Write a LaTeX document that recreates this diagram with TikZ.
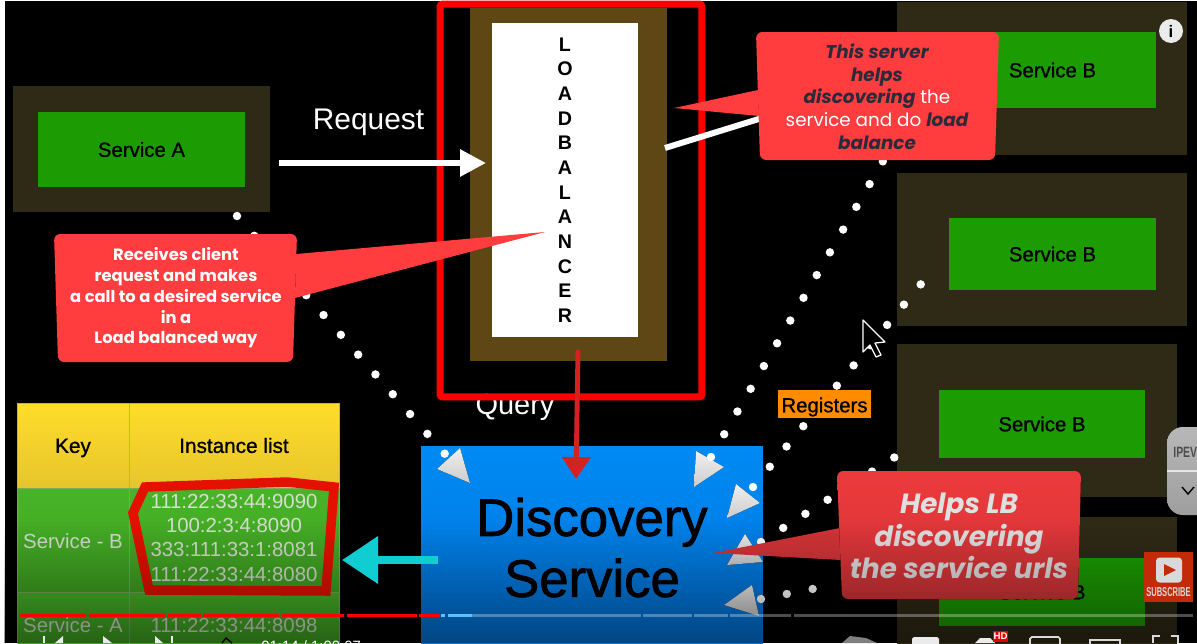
\documentclass[tikz,border=0pt]{standalone}
\usepackage{fontspec}
\setmainfont{Liberation Sans}
\newfontfamily\heavyfont[FakeBold=1]{Liberation Sans}
\newfontfamily\hugefont[FakeBold=1.5]{Liberation Sans}
\newfontfamily\calloutfont{Poppins}
\usetikzlibrary{arrows.meta,positioning,fadings}

\definecolor{boxshade}{HTML}{2F2A16}
\definecolor{servicegreen}{HTML}{1C9C02}
\definecolor{lbbrown}{HTML}{5F4615}
\definecolor{calloutred}{HTML}{FF3C3E}
\definecolor{calloutdark}{HTML}{2B2A3A}
\definecolor{tealarrow}{HTML}{0FCDD0}
\definecolor{framered}{HTML}{FF0000}
\definecolor{headtop}{HTML}{FFDD2A}
\definecolor{headbottom}{HTML}{E6C52C}
\definecolor{celltop}{HTML}{48B428}
\definecolor{cellbottom}{HTML}{3FA222}
\definecolor{celltext}{HTML}{D6DECF}
\definecolor{celledge}{HTML}{7FA860}
\definecolor{discoverytop}{HTML}{008AF4}
\definecolor{discoverybottom}{HTML}{0074DA}
\definecolor{queryred}{HTML}{D42222}
\definecolor{darknotetop}{HTML}{EC3A3C}
\definecolor{darknotebottom}{HTML}{D43438}
\definecolor{subscribered}{HTML}{C22A08}

\newcommand{\hl}[1]{{\bfseries\itshape\color{calloutdark}#1}}
\newcommand{\capsdown}[2]{\raisebox{-#1pt}[0pt][0pt]{#2}}

\tikzset{
  outerbox/.style={fill=boxshade, inner sep=0pt, minimum width=5.8cm, minimum height=3.06cm},
  servicebox/.style={fill=servicegreen, inner sep=0pt, minimum width=4.14cm, font=\heavyfont\fontsize{11.6}{14}\selectfont},
  headcell/.style={inner sep=0pt, draw=headbottom!70!gray, line width=.3pt, minimum height=1.7cm, top color=headtop, bottom color=headbottom,
    font=\heavyfont\fontsize{11.8}{14}\selectfont},
  bodycell/.style={inner sep=0pt, draw=celledge, line width=.3pt, top color=celltop, bottom color=cellbottom,
    text=celltext, font=\fontsize{11.6}{14}\selectfont},
  dotline/.style={white, line width=4.8pt, line cap=round, dash pattern=on 0pt off 14.97pt},
  dothead/.style={top color=white!94!black, bottom color=white!80!black},
  calloutbody/.style={fill=calloutred, rounded corners=3.5pt},
  barpiece/.style={line width=1.7pt},
  icon/.style={fill=white!92!black}
}

\begin{document}
\begin{tikzpicture}[x=0.02cm, y=-0.02cm]
      \clip (0,0) rectangle (1197,643);
      \fill[white] (0,0) rectangle (1197,643);
      \fill[black] (5,1) rectangle (1197,643);

      \node[outerbox, minimum width=5.14cm, minimum height=2.52cm] (ShadeA) at (141.5,149) {};
      \node[servicebox, minimum height=1.52cm] (ServiceA) at (141.5,149.5) {Service A};
      \node[outerbox] (ShadeB1) at (1042,78.5) {};
      \node[servicebox, minimum height=1.54cm] (ServiceB1) at (1052.5,70) {Service B};
      \node[outerbox] (ShadeB2) at (1042,249.5) {};
      \node[servicebox, minimum height=1.44cm] (ServiceB2) at (1052.5,254) {Service B};
      \node[outerbox, minimum width=5.6cm] (ShadeB3) at (1037,420.5) {};
      \node[servicebox, minimum width=4.12cm, minimum height=1.36cm] (ServiceB3) at (1042,424) {Service B};
      \node[outerbox, minimum width=5.6cm] (ShadeB4) at (1037,593.5) {};
      \node[servicebox, minimum width=4.12cm, minimum height=1.36cm] (ServiceB4) at (1042,592) {Service B};

      \node[headcell, minimum width=2.24cm] (KeyHead) at (73,445.5) {\capsdown{4.2}{Key}};
      \node[headcell, minimum width=4.2cm] (ListHead) at (234,445.5) {\capsdown{4.2}{Instance list}};
      \node[bodycell, minimum width=2.24cm, minimum height=2.12cm] (KeyB) at (73,541) {Service - B};
      \node[bodycell, minimum width=4.2cm, minimum height=2.12cm] (ListB) at (234,541) {};
      \node[bodycell, minimum width=2.24cm, minimum height=1.32cm] (KeyA) at (73,625.5) {Service - A};
      \node[bodycell, minimum width=4.2cm, minimum height=1.32cm] (ListA) at (234,625.5) {111:22:33:44:8098};
      \node[text=celltext, align=center, inner sep=0pt, font=\fontsize{11.6}{13.85}\selectfont] (ListText)
           at (234,537.5) {111:22:33:44:9090\\100:2:3:4:8090\\333:111:33:1:8081\\111:22:33:44:8080};
      \draw[red!85!orange!90!black, line width=5.4pt, line join=miter] (145,487) -- (287,482) -- (334,487)
           -- (326,591) -- (149,590) -- (133,513) -- cycle;

      \node[top color=discoverytop, bottom color=discoverybottom, inner sep=0pt, minimum width=6.84cm, minimum height=4.06cm,
            align=center, font=\hugefont\fontsize{30}{34.7}\selectfont] (Discovery) at (592,547.5) {Discovery\\Service};
      \node[white, inner sep=0pt, font=\fontsize{16.5}{20}\selectfont] (Query) at (515,407.5) {Query};

      \fill[dothead] (460,448) -- (437,469) -- (470,483) -- cycle;
      \fill[dothead] (696,451) -- (724,467) -- (694,487) -- cycle;
      \fill[dothead] (736,484) -- (760,503) -- (727,518) -- cycle;
      \fill[dothead] (745,534) -- (763,562) -- (727,565) -- cycle;
      \fill[dothead] (752,585) -- (759,616) -- (724,605) -- cycle;

      \coordinate (FromA) at (237,216);
      \coordinate (ToA) at (445,454);
      \coordinate (FromB1) at (711,457);
      \coordinate (ToB1) at (883,161);
      \coordinate (FromB2) at (753,487);
      \coordinate (ToB2) at (921,284);
      \coordinate (FromB3) at (761,542);
      \coordinate (ToB3) at (895,457);
      \coordinate (FromB4) at (761,599);
      \coordinate (ToB4) at (838,584);
      \draw[dotline] (FromA) -- (ToA);
      \draw[dotline] (FromB1) -- (ToB1);
      \draw[dotline] (FromB2) -- (ToB2);
      \draw[dotline] (FromB3) -- (ToB3);
      \draw[dotline] (FromB4) -- (ToB4);

      \node[fill=lbbrown, inner sep=0pt, minimum width=3.94cm, minimum height=7.06cm] (LBShade) at (568.5,184.5) {};
      \node[fill=white, inner sep=0pt, minimum width=2.92cm, minimum height=6.28cm, align=center,
            font=\bfseries\fontsize{11.2}{14.05}\selectfont] (LB) at (565,180)
           {L\\O\\A\\D\\B\\A\\L\\A\\N\\C\\E\\R};
      \node[draw=framered, line width=4pt, rounded corners=1.5pt, inner sep=0pt, minimum width=5.24cm, minimum height=7.86cm] (LBFrame) at (571,200.5) {};

      \node[white, inner sep=0pt, font=\fontsize{17}{20}\selectfont] (Request) at (368.5,122) {Request};
      \coordinate (RequestStart) at (279,163);
      \coordinate (RequestEnd) at (486,163);
      \draw[white, line width=3.4pt, -{Triangle[length=14.8pt, width=14.8pt]}] (RequestStart) -- (RequestEnd);
      \coordinate (LinkStart) at (665,148);
      \coordinate (LinkEnd) at (762,118);
      \draw[white, line width=3.4pt] (LinkStart) -- (LinkEnd);
      \coordinate (QueryStart) at (578,350);
      \coordinate (QueryEnd) at (576,479);
      \draw[queryred, line width=2.8pt, -{Triangle[length=12.5pt, width=16pt]}] (QueryStart) -- (QueryEnd);

      \node[fill=orange!90!yellow, inner sep=0pt, minimum width=1.86cm, minimum height=.56cm, font=\heavyfont\fontsize{11.6}{14}\selectfont] (Registers) at (824.5,404) {\capsdown{4.7}{Registers}};

      \fill[calloutred] (758,90) -- (674,108) -- (759,116) -- cycle;
      \fill[calloutbody] (756,32) -- (999,32) -- (995,160) -- (760,160) -- cycle;
      \node[white, align=center, inner sep=0pt, font=\calloutfont\fontsize{10.45}{12.95}\selectfont] (ServerNote) at (877,96.5)
           {\hl{This server}\\\hl{helps}\\\hl{discovering} the\\service and do \hl{load}\\\hl{balance}};

      \fill[calloutred] (296,254) -- (545,232) -- (295,298) -- cycle;
      \fill[calloutbody] (54,234) -- (297,234) -- (293,362) -- (58,362) -- cycle;
      \node[white, align=center, inner sep=0pt, font=\calloutfont\bfseries\fontsize{9.3}{11.8}\selectfont] (ClientNote) at (176,298)
           {Receives client\\request and makes\\a call to a desired service\\in a\\Load balanced way};

      \fill[darknotebottom] (840,528) -- (713,553) -- (841,560) -- cycle;
      \fill[top color=darknotetop, bottom color=darknotebottom, rounded corners=3.5pt] (837,471) -- (1081,471) -- (1078,599) -- (842,599) -- cycle;
      \node[white!88!black, align=center, inner sep=0pt, font=\calloutfont\bfseries\itshape\fontsize{15.8}{18.5}\selectfont] (LBNote) at (959,536)
           {Helps LB\\discovering\\the service urls};

      \fill[black, opacity=.4, path fading=north] (5,520) rectangle (1197,643);

      \coordinate (ResultStart) at (438,560);
      \coordinate (ResultEnd) at (342,560);
      \draw[tealarrow, line width=4.6pt, -{Triangle[length=20.5pt, width=26pt]}] (ResultStart) -- (ResultEnd);

      \draw[barpiece, framered] (20,615) -- (86,615) (89,615) -- (165,615) (168,615) -- (201,615) (203,615) -- (279,615)
           (282,615) -- (344,615) (347,615) -- (417,615) (419,615) -- (440,615);
      \draw[barpiece, white, opacity=.3] (448,615) -- (641,615) (643,615) -- (692,615) (694,615) -- (728,615)
           (730,615) -- (791,615) (794,615) -- (1193,615);
      \draw[barpiece, white!60!blue!60!cyan] (441,615) -- (445,615) (448,615) -- (472,615);

      \fill[icon] (43,643) -- (43,636) -- (45,636) -- (45,643) -- cycle;
      \fill[icon] (55,643) -- (63,636) -- (63,643) -- cycle;
      \fill[icon] (103,636) -- (112,643) -- (103,643) -- cycle;
      \fill[icon] (155,636) -- (163,643) -- (155,643) -- cycle;
      \fill[icon] (171,636) -- (173,636) -- (173,643) -- (171,643) -- cycle;
      \draw[icon, fill=none, line width=.8pt] (222,643) -- (226,638) -- (232,643);
      \node[white, anchor=west, inner sep=0pt, font=\fontsize{8.5}{10}\selectfont] (Clock) at (261,646) {01:14 / 1:00:07};
      \fill[gray] (842,643) -- (850,636) -- (866,638) -- (877,643) -- cycle;
      \fill[icon, rounded corners=1pt] (912,647) rectangle (939,637);
      \fill[icon] (975,643) -- (980,638) -- (990,638) -- (995,643) -- cycle;
      \node[fill=red!90!black, text=white, inner sep=0pt, minimum width=.3cm, minimum height=.22cm, font=\bfseries\fontsize{5.5}{7}\selectfont] (HD) at (1000.5,636.5) {HD};
      \draw[white!85!black, line width=1pt, rounded corners=1pt] (1030,647) -- (1030,637) -- (1060,637) -- (1060,647);
      \draw[white!85!black, line width=1pt] (1090,647) -- (1090,640) -- (1120,640) -- (1120,647);
      \draw[white!85!black, line width=1pt] (1153,643) -- (1153,636) -- (1160,636) (1171,636) -- (1178,636) -- (1178,643);

      \fill[black] (863,320) -- (885,342) -- (875,343) -- (881,355) -- (876,357) -- (870,345) -- (863,352) -- cycle;
      \draw[white, line width=.7pt, line join=round] (863,320) -- (885,342) -- (875,343) -- (881,355) -- (876,357) -- (870,345) -- (863,352) -- cycle;

      \node[circle, fill=white!92!black, inner sep=0pt, minimum size=.48cm, font=\bfseries\fontsize{9.5}{11}\selectfont] (Info) at (1171,31) {i};

      \node[fill=subscribered, inner sep=0pt, minimum width=.98cm, minimum height=1cm] (Subscribe) at (1168.5,577) {};
      \node[fill=white!85!black, rounded corners=2pt, inner sep=0pt, minimum width=.52cm, minimum height=.5cm] (PlayBox) at (1169,570) {};
      \fill[subscribered] (1164,564) -- (1176,570) -- (1164,576) -- cycle;
      \node[text=white!85!black, inner sep=0pt, font=\bfseries\fontsize{7.4}{9}\selectfont] (SubscribeText) at (1168.5,592) {\scalebox{.58}[1]{SUBSCRIBE}};

      \fill[top color=white!72!black, bottom color=white!62!black, rounded corners=9pt] (1167,427) rectangle (1215,515);
      \draw[white!90!black, line width=.7pt] (1167,471) -- (1197,471);
      \node[text=black!70, anchor=west, inner sep=0pt, font=\bfseries\fontsize{8.5}{10}\selectfont] (TabText) at (1173,452) {\scalebox{.7}[1]{IPEV}};
      \draw[black, line width=.8pt] (1182,487) -- (1188,494) -- (1194,487);
\end{tikzpicture}
\end{document}
